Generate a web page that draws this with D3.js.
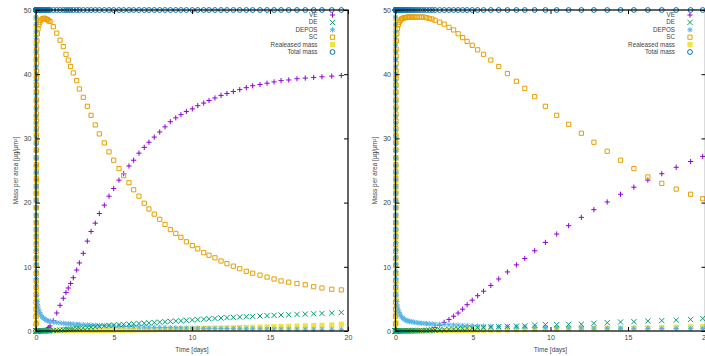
<!DOCTYPE html>
<html>
<head>
<meta charset="utf-8">
<script src="https://cdn.jsdelivr.net/npm/d3@7"></script>
<style>
html, body { margin: 0; padding: 0; background: #fff; }
svg { display: block; }
text { font-family: "Liberation Sans", Arial, sans-serif; }
</style>
</head>
<body>
<svg id="chart" width="705" height="356"></svg>
<script>
// ---- start-up transient (first output steps, shared by both runs) ----
const startupDays = [0.000,0.001,0.002,0.003,0.004,0.005,0.006,0.007,0.008,0.009,0.010,0.011,0.012,0.013,0.014,0.015,0.016,0.017,0.018,0.019,0.020,0.021,0.022,0.023,0.024,0.025,0.026,0.027,0.028,0.029,0.030,0.031,0.032,0.033,0.034,0.035,0.036,0.037,0.038,0.039];
const startupVE = [0,0,0,0,0,0,0,0,0,0,0,0,0,0,0,0,0,0,0,0,0,0,0,0,0,0,0,0,0,0,0,0,0,0,0,0,0,0,0,0];
const startupDE = [0,0,0,0,0,0,0,0,0,0,0,0,0,0,0,0,0,0,0,0,0,0,0,0,0,0,0,0,0,0,0,0,0,0,0,0,0,0,0,0];
const startupDEPOS = [50.0,48.9,47.8,46.7,45.6,44.5,43.4,42.3,41.2,40.1,39.0,37.9,36.8,35.7,34.6,33.5,32.4,31.3,30.2,29.1,28.0,26.9,25.8,24.7,23.6,22.5,21.4,20.3,19.2,18.1,17.0,15.9,14.8,13.7,12.6,11.5,10.4,9.3,8.2,7.1];
const startupSC = [0.0,1.1,2.3,3.4,4.5,5.7,6.8,7.9,9.0,10.2,11.3,12.4,13.5,14.7,15.8,16.9,18.0,19.2,20.3,21.4,22.5,23.7,24.8,25.9,27.0,28.2,29.3,30.4,31.5,32.7,33.8,34.9,36.0,37.2,38.3,39.4,40.5,41.7,42.8,43.9];
const startupReleased = [50.0,48.7,47.4,46.2,44.9,43.6,42.3,41.0,39.7,38.5,37.2,35.9,34.6,33.3,32.1,30.8,29.5,28.2,26.9,25.6,24.4,23.1,21.8,20.5,19.2,17.9,16.7,15.4,14.1,12.8,11.5,10.3,9.0,7.7,6.4,5.1,3.8,2.6,1.3,0.0];
const startupTotal = [50,50,50,50,50,50,50,50,50,50,50,50,50,50,50,50,50,50,50,50,50,50,50,50,50,50,50,50,50,50,50,50,50,50,50,50,50,50,50,50];

// ---- run A (left panel) ----
const daysA = [0.06,0.09,0.13,0.18,0.24,0.31,0.39,0.47,0.56,0.65,0.74,0.82,
  0.90,1.11,1.33,1.54,1.75,1.92,2.07,2.22,2.39,2.61,2.78,3.03,3.29,3.53,3.80,4.06,4.38,4.68,4.98,5.32,
  5.62,5.96,6.26,6.60,6.94,7.24,7.58,7.93,8.27,8.61,8.96,9.29,9.64,10.02,10.37,10.75,11.09,11.47,11.86,12.24,
  12.65,13.06,13.48,13.89,14.36,14.81,15.26,15.71,16.20,16.73,17.26,17.80,18.33,18.96,19.57];
const veA = [0,0,0,0,0,0,0,0.05,0.1,0.2,0.3,0.5,
  0.78,1.6,2.8,4.0,5.1,6.0,6.7,7.4,8.3,9.5,10.6,12.1,14.0,15.5,16.8,18.3,19.6,21.0,22.2,23.5,
  24.5,25.7,26.6,27.7,28.6,29.4,30.2,31.0,31.8,32.6,33.2,33.7,34.2,34.6,35.1,35.5,35.9,36.3,36.7,37.0,
  37.3,37.6,37.9,38.2,38.4,38.6,38.8,39.0,39.1,39.3,39.4,39.5,39.6,39.7,39.8];
const deA = [0,0,0,0,0,0.01,0.02,0.02,0.03,0.03,0.04,0.04,
  0.05,0.08,0.12,0.16,0.2,0.24,0.27,0.3,0.34,0.39,0.43,0.48,0.54,0.6,0.66,0.72,0.8,0.88,0.93,0.98,
  1.02,1.07,1.12,1.17,1.22,1.27,1.32,1.38,1.44,1.49,1.55,1.6,1.66,1.72,1.78,1.84,1.9,1.96,2.03,2.08,
  2.13,2.18,2.23,2.28,2.34,2.39,2.44,2.49,2.53,2.58,2.63,2.68,2.74,2.8,2.88];
const deposA = [5.6,4.6,3.9,3.3,2.9,2.5,2.2,2.0,1.85,1.7,1.6,1.55,
  1.5,1.4,1.3,1.25,1.2,1.15,1.12,1.1,1.07,1.04,1.02,0.99,0.96,0.93,0.9,0.87,0.84,0.81,0.78,0.75,
  0.72,0.7,0.67,0.64,0.62,0.6,0.58,0.56,0.54,0.52,0.5,0.48,0.47,0.45,0.44,0.42,0.41,0.4,0.39,0.38,
  0.37,0.36,0.35,0.34,0.33,0.32,0.31,0.3,0.3,0.29,0.28,0.28,0.27,0.27,0.26];
const scA = [45.2,46.3,47.1,47.7,48.1,48.4,48.6,48.7,48.7,48.6,48.5,48.3,
  48.2,47.4,46.4,45.3,44.3,43.1,42.2,41.2,40.2,39.0,37.7,36.4,35.0,33.6,32.1,30.7,29.3,27.9,26.6,25.3,
  24.2,23.1,22.0,21.0,19.9,19.0,18.2,17.4,16.6,15.8,15.2,14.6,13.9,13.3,12.8,12.2,11.8,11.4,10.9,10.5,
  10.1,9.7,9.3,9.0,8.7,8.4,8.1,7.8,7.6,7.4,7.2,6.9,6.7,6.5,6.4];
const releasedA = [0.02,0.02,0.02,0.02,0.02,0.02,0.02,0.02,0.02,0.02,0.02,0.02,
  0.03,0.03,0.04,0.04,0.05,0.05,0.05,0.06,0.06,0.06,0.07,0.07,0.08,0.08,0.09,0.09,0.1,0.1,0.11,0.12,
  0.13,0.14,0.15,0.17,0.18,0.2,0.21,0.23,0.25,0.27,0.29,0.31,0.33,0.35,0.37,0.39,0.41,0.43,0.46,0.48,
  0.5,0.53,0.55,0.58,0.61,0.64,0.67,0.7,0.73,0.77,0.8,0.84,0.88,0.94,1.05];
const totalA = [50,50,50,50,50,50,50,50,50,50,50,50,
  50,50,50,50,50,50,50,50,50,50,50,50,50,50,50,50,50,50,50,50,
  50,50,50,50,50,50,50,50,50,50,50,50,50,50,50,50,50,50,50,50,
  50,50,50,50,50,50,50,50,50,50,50,50,50,50,50];

// ---- run B (right panel) ----
const daysB = [0.06,0.09,0.13,0.18,0.24,0.31,0.39,0.47,0.56,0.65,0.74,0.82,
  0.92,1.02,1.13,1.25,1.38,1.52,1.67,1.83,2.00,2.18,2.36,
  2.55,2.85,3.14,3.45,3.75,4.04,4.33,4.62,4.95,5.30,5.68,6.15,6.66,7.22,7.80,
  8.34,8.98,9.67,10.40,11.17,11.99,12.80,13.66,14.52,15.38,16.28,17.18,18.11,19.04,19.82];
const veB = [0,0,0,0,0,0,0,0,0,0,0,0,
  0,0,0,0,0,0,0,0,0.05,0.15,0.3,
  0.5,0.9,1.35,1.8,2.3,2.8,3.4,4.1,4.8,5.5,6.2,7.1,8.1,9.2,10.3,
  11.3,12.5,13.8,15.1,16.4,17.7,18.9,20.1,21.3,22.4,23.5,24.5,25.5,26.4,27.2];
const deB = [0,0,0,0,0,0.01,0.01,0.02,0.02,0.03,0.03,0.03,
  0.04,0.04,0.05,0.05,0.06,0.07,0.08,0.09,0.1,0.11,0.13,
  0.15,0.18,0.21,0.25,0.29,0.33,0.37,0.41,0.46,0.51,0.56,0.62,0.68,0.72,0.76,
  0.8,0.92,1.0,1.0,1.04,1.06,1.2,1.3,1.4,1.45,1.55,1.62,1.7,1.8,1.95];
const deposB = [5.6,4.6,3.9,3.3,2.9,2.5,2.2,2.0,1.85,1.7,1.6,1.55,
  1.5,1.45,1.4,1.35,1.3,1.25,1.22,1.18,1.15,1.12,1.1,
  1.07,1.04,1.0,0.97,0.94,0.91,0.88,0.85,0.82,0.79,0.76,0.73,0.7,0.67,0.64,
  0.61,0.58,0.55,0.52,0.5,0.48,0.46,0.44,0.42,0.41,0.4,0.39,0.38,0.37,0.36];
const scB = [45.2,46.3,47.1,47.7,48.1,48.4,48.6,48.7,48.8,48.8,48.9,48.9,
  48.9,48.9,48.9,48.9,48.9,48.9,48.9,48.9,48.8,48.7,48.6,
  48.4,48.1,47.8,47.3,46.9,46.3,45.7,45.1,44.5,43.8,43.1,42.2,41.2,40.1,38.9,
  37.8,36.5,35.0,33.6,32.2,30.8,29.4,28.0,26.6,25.3,24.0,23.0,22.1,21.3,20.6];
const releasedB = [0.03,0.03,0.03,0.03,0.03,0.03,0.03,0.03,0.03,0.03,0.03,0.03,
  0.04,0.04,0.04,0.04,0.04,0.04,0.04,0.04,0.04,0.04,0.04,
  0.05,0.05,0.05,0.06,0.06,0.06,0.07,0.07,0.08,0.09,0.1,0.12,0.14,0.16,0.18,
  0.2,0.22,0.25,0.28,0.31,0.35,0.38,0.42,0.45,0.48,0.52,0.55,0.6,0.65,0.7];
const totalB = [50,50,50,50,50,50,50,50,50,50,50,50,
  50,50,50,50,50,50,50,50,50,50,50,
  50,50,50,50,50,50,50,50,50,50,50,50,50,50,50,
  50,50,50,50,50,50,50,50,50,50,50,50,50,50,50];

// ---- axes / legend text ----
const xTicks = [0, 5, 10, 15, 20];
const yTicks = [0, 10, 20, 30, 40, 50];
const legendLabels = ["VE", "DE", "DEPOS", "SC", "Realeased mass", "Total mass"];
const xTitle = "Time [days]";
const yTitle = "Mass per area [µg/µm²]";

// ---- drawing ----
const svg = d3.select("#chart");
const seriesStyle = [
  { key: "VE", color: "#9400d3", shape: "plus" },
  { key: "DE", color: "#009e73", shape: "cross" },
  { key: "DEPOS", color: "#56b4e9", shape: "star" },
  { key: "SC", color: "#e69f00", shape: "square" },
  { key: "Released", color: "#f0e442", shape: "filled" },
  { key: "Total", color: "#0072b2", shape: "circle" }
];
const drawOrder = ["VE", "Released", "SC", "DEPOS", "DE", "Total"];

const S = 2.6;
function markerPath(shape) {
  switch (shape) {
    case "plus": return `M${-S},0H${S}M0,${-S}V${S}`;
    case "cross": return `M${-S},${-S}L${S},${S}M${-S},${S}L${S},${-S}`;
    case "star": return `M${-S},0H${S}M0,${-S}V${S}M${-S*0.75},${-S*0.75}L${S*0.75},${S*0.75}M${-S*0.75},${S*0.75}L${S*0.75},${-S*0.75}`;
    case "square": return `M${-S+0.5},${-S+0.5}H${S-0.5}V${S-0.5}H${-S+0.5}Z`;
    case "filled": return `M${-S},${-S}H${S}V${S}H${-S}Z`;
    case "circle": return d3.arc()({ innerRadius: 0, outerRadius: S - 0.2, startAngle: 0, endAngle: 2 * Math.PI });
  }
}
function styleMarker(sel, st) {
  if (st.shape === "filled") sel.attr("fill", st.color).attr("stroke", "none");
  else sel.attr("fill", "none").attr("stroke", st.color).attr("stroke-width", 1);
}

const y = d3.scaleLinear().domain([0, 50]).range([331, 10]);

const panels = [
  { x0: 36, x1: 348, days: daysA,
    values: { VE: veA, DE: deA, DEPOS: deposA, SC: scA, Released: releasedA, Total: totalA } },
  { x0: 395.5, x1: 705.5, days: daysB,
    values: { VE: veB, DE: deB, DEPOS: deposB, SC: scB, Released: releasedB, Total: totalB } }
];
const startup = { VE: startupVE, DE: startupDE, DEPOS: startupDEPOS, SC: startupSC, Released: startupReleased, Total: startupTotal };

panels.forEach(p => {
  const x = d3.scaleLinear().domain([0, 20]).range([p.x0, p.x1]);
  const g = svg.append("g");
  const days = startupDays.concat(p.days);

  // data markers
  drawOrder.forEach(key => {
    const st = seriesStyle.find(s => s.key === key);
    const vals = startup[key].concat(p.values[key]);
    const pts = days.map((d, i) => [d, vals[i]]);
    const sel = g.append("g").selectAll("path").data(pts).join("path")
      .attr("d", markerPath(st.shape))
      .attr("transform", d => `translate(${x(d[0])},${y(d[1])})`);
    styleMarker(sel, st);
  });

  // axes with inward ticks, mirrored on top/right
  const axB = g.append("g").attr("transform", `translate(0,${y(0)})`)
    .call(d3.axisBottom(x).tickValues(xTicks).tickSize(-4).tickPadding(4.5).tickFormat(d3.format("d")));
  const axL = g.append("g").attr("transform", `translate(${p.x0},0)`)
    .call(d3.axisLeft(y).tickValues(yTicks).tickSize(-4).tickPadding(4.5).tickFormat(d3.format("d")));
  const axT = g.append("g").attr("transform", `translate(0,${y(50)})`)
    .call(d3.axisTop(x).tickValues(xTicks).tickSize(-4).tickFormat(""));
  const axR = g.append("g").attr("transform", `translate(${p.x1},0)`)
    .call(d3.axisRight(y).tickValues(yTicks).tickSize(-4).tickFormat(""));
  [axB, axL, axT, axR].forEach(a => {
    a.select(".domain").remove();
    a.selectAll("line").attr("stroke", "#000").attr("stroke-width", 1);
    a.selectAll("text").attr("font-size", 7).attr("fill", "#444")
      .attr("font-family", "'Liberation Sans', Arial, sans-serif");
  });

  // plot border
  g.append("rect")
    .attr("x", p.x0).attr("y", y(50))
    .attr("width", p.x1 - p.x0).attr("height", y(0) - y(50))
    .attr("fill", "none").attr("stroke", "#111").attr("stroke-width", 1.3);

  // axis titles
  g.append("text")
    .attr("x", (p.x0 + p.x1) / 2).attr("y", 351.5)
    .attr("text-anchor", "middle").attr("font-size", 6.5).attr("fill", "#444")
    .text(xTitle);
  g.append("text")
    .attr("transform", `translate(${p.x0 - 18.5},${(y(0) + y(50)) / 2}) rotate(-90)`)
    .attr("text-anchor", "middle").attr("font-size", 6.5).attr("fill", "#444")
    .text(yTitle);

  // legend
  const lx = p.x1 - 15.5;
  const lg = g.append("g");
  seriesStyle.forEach((st, i) => {
    const ly = 15 + i * 7.4;
    lg.append("text").attr("x", lx - 15).attr("y", ly).attr("dy", "0.33em")
      .attr("text-anchor", "end").attr("font-size", 6.3).attr("fill", "#444")
      .text(legendLabels[i]);
    const m = lg.append("path").attr("d", markerPath(st.shape))
      .attr("transform", `translate(${lx},${ly})`);
    styleMarker(m, st);
  });
});
</script>
</body>
</html>
